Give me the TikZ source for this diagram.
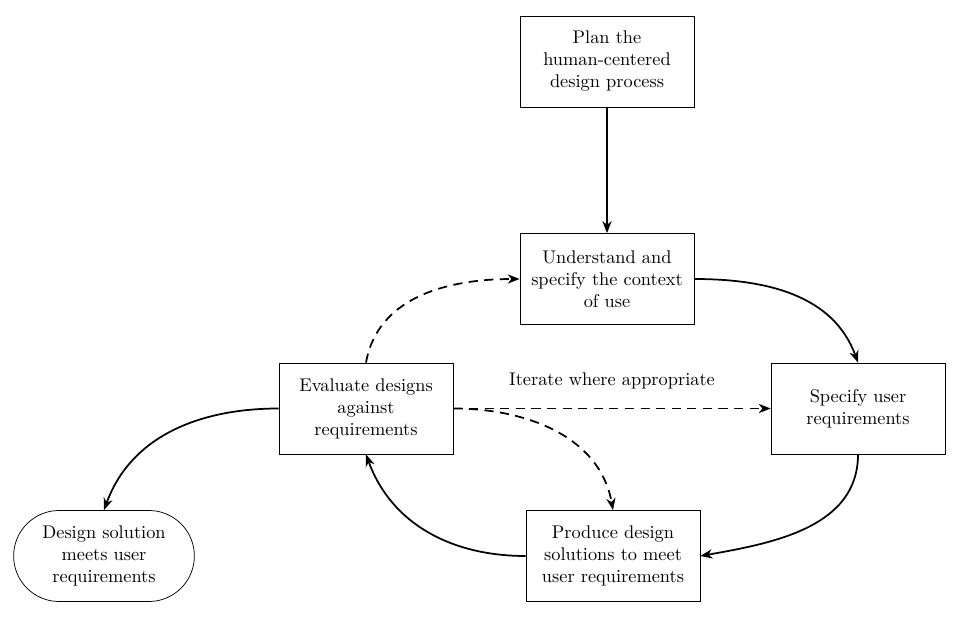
\documentclass[tikz,border=0pt]{standalone}
\usetikzlibrary{arrows.meta,shapes.misc}
\begin{document}
\begin{tikzpicture}[x=0.545pt,y=-0.545pt,
  box/.style={draw,rectangle,minimum width=94.8pt,minimum height=49.6pt,text width=88pt,align=center,inner sep=2pt},
  term/.style={draw,rounded rectangle,minimum width=102.5pt,minimum height=49.6pt,text width=80pt,align=center,inner sep=2pt},
  conn/.style={line width=0.95pt,-{Stealth[length=6.5pt,width=5pt,inset=2pt]}},
  iter/.style={conn,dash pattern=on 5pt off 3.5pt}]
\useasboundingbox (0,0) rectangle (959,619);
\node[box] (plan) at (607,61.5) {Plan the\\human-centered\\design process};
\node[box] (understand) at (607,279) {Understand and\\specify the context\\of use};
\node[box] (specify) at (858,408.5) {Specify user\\requirements};
\node[box] (produce) at (613,556) {Produce design\\solutions to meet\\user requirements};
\node[box] (evaluate) at (366,408.5) {Evaluate designs\\against\\requirements};
\node[term] (done) at (104,556) {Design solution\\meets user\\requirements};
\draw[conn] (plan.south) -- (understand.north);
\draw[conn] (understand.east) to[out=0,in=110] (specify.north);
\draw[conn] (specify.south) to[out=-90,in=10] (produce.east);
\draw[conn] (produce.west) to[out=180,in=-70] (evaluate.south);
\draw[conn] (evaluate.west) to[out=180,in=70] (done.north);
\draw[iter] (evaluate.north) to[out=80,in=180] (understand.west);
\draw[iter] (evaluate.east) -- node[above=7pt] (lbl) {Iterate where appropriate} (specify.west);
\draw[iter] (evaluate.east) to[out=0,in=100] (produce.north);
\end{tikzpicture}
\end{document}
